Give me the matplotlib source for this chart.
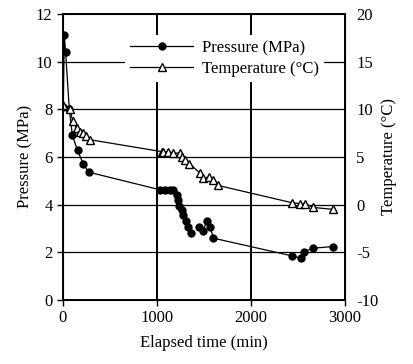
import matplotlib.pyplot as plt
import numpy as np

plt.rcParams['font.family'] = ['Liberation Serif', 'DejaVu Serif']
plt.rcParams['axes.unicode_minus'] = False

# pressure (MPa) vs elapsed time (min); NaN breaks the line
p_time = [3, 14, 28, 67, 100, 155, 216, 273, 1032, 1085, 1138, 1174, 1210, 1227,
          1238, 1262, 1280, 1309, 1333, 1358, np.nan, 1450, 1493, 1528, 1564, 1600,
          2433, 2528, 2564, 2663, 2869]
pressure = [8.1, 11.1, 10.4, 8.0, 6.9, 6.27, 5.7, 5.36, 4.62, 4.62, 4.62, 4.6, 4.4, 4.2,
            3.95, 3.78, 3.57, 3.29, 3.08, 2.8, np.nan, 3.05, 2.91, 3.32, 3.08, 2.59,
            1.85, 1.75, 2.03, 2.17, 2.24]

# temperature (deg C) vs elapsed time (min)
t_time = [3, 74, 103, 145, 180, 216, 245, 287, 1050, 1067, 1120, 1174, 1245, 1262,
          1298, 1344, 1457, 1493, 1557, 1600, 1652, 2433, 2521, 2574, 2663, 2869]
temperature = [10.4, 10.0, 8.8, 8.0, 7.65, 7.5, 7.2, 6.8, 5.55, 5.5, 5.5, 5.4, 5.4, 5.0,
               4.7, 4.3, 3.3, 2.77, 2.9, 2.6, 2.0, 0.2, 0.1, 0.1, -0.3, -0.5]

fig = plt.figure(figsize=(4.13, 3.64), dpi=100)
ax = fig.add_axes([0.1525, 0.176, 0.683, 0.786])
ax2 = ax.twinx()

for y in [2, 4, 6, 8, 10]:
    ax.axhline(y, color='black', lw=0.9, zorder=0)
for x in [1000, 2000]:
    ax.axvline(x, color='black', lw=1.4, zorder=0)

ax.plot(p_time, pressure, '-o', color='black', lw=0.9, ms=5, label='Pressure (MPa)')
ax.plot([], [], '-^', color='black', mfc='white', lw=0.9, ms=5.5, label='Temperature (\u00b0C)')
ax2.plot(t_time, temperature, '-^', color='black', mfc='white', lw=0.9, ms=5.5)

ax.set_xlim(0, 3000)
ax.set_ylim(0, 12)
ax2.set_ylim(-10, 20)
ax.set_xticks([0, 1000, 2000, 3000])
ax.set_yticks([0, 2, 4, 6, 8, 10, 12])
ax2.set_yticks([-10, -5, 0, 5, 10, 15, 20])

ax.tick_params(labelsize=12, direction='out', length=4, width=1)
ax2.tick_params(labelsize=12, direction='out', length=0, pad=8)
for s in ax.spines.values():
    s.set_linewidth(1.4)

ax.set_xlabel('Elapsed time (min)', fontsize=12, labelpad=6)
ax.set_ylabel('Pressure (MPa)', fontsize=12, labelpad=2)
ax2.set_ylabel('Temperature (\u00b0C)', fontsize=12, labelpad=2)

leg = ax.legend(loc='upper left', bbox_to_anchor=(0.19, 0.955), frameon=True,
                fontsize=12, handlelength=3.8, handletextpad=0.5,
                labelspacing=0.3, borderpad=0.3)
leg.get_frame().set_edgecolor('none')
leg.get_frame().set_alpha(1)
leg.set_zorder(5)

plt.savefig('out.png', dpi=100)
